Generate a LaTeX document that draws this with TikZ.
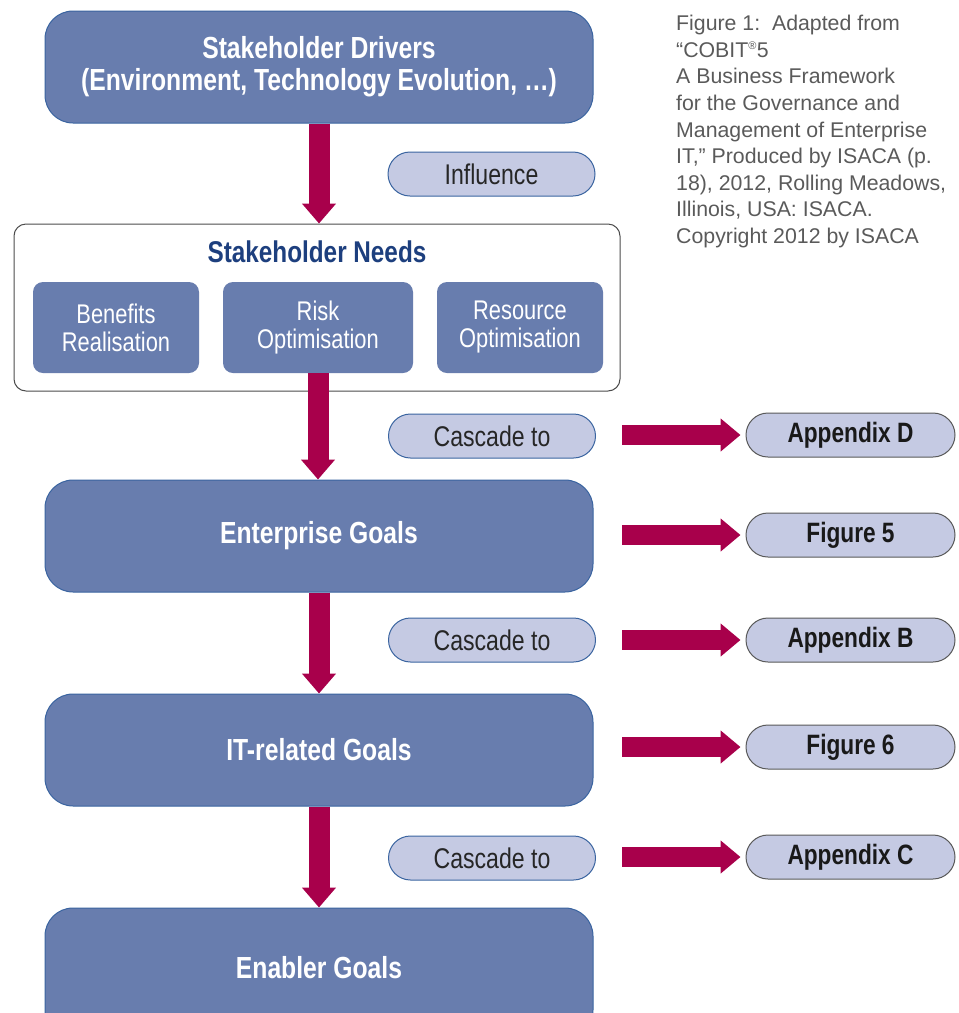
\documentclass[tikz,border=0pt]{standalone}
\usepackage{fontspec}
\setmainfont{Liberation Sans}
\newfontfamily\condf[FakeStretch=0.81]{Liberation Sans}
\usetikzlibrary{arrows.meta}
\definecolor{boxblue}{HTML}{687DAE}
\definecolor{boxedge}{HTML}{3A64A0}
\definecolor{pillfill}{HTML}{C5CAE3}
\definecolor{arrowred}{HTML}{A8004B}
\definecolor{titleblue}{HTML}{1D3F7E}
\definecolor{captiongrey}{HTML}{5A5A5A}
\tikzset{
 mainbox/.style={draw=boxedge, line width=1pt, fill=boxblue, rounded corners=28pt,
   minimum width=548pt, minimum height=112pt, inner sep=0pt, text=white,
   font=\condf\bfseries\fontsize{30.5}{32}\selectfont, align=center},
 subbox/.style={fill=boxblue, rounded corners=10pt, minimum height=91pt, inner sep=0pt,
   text=white, font=\condf\fontsize{27}{28}\selectfont, align=center},
 pill/.style={draw=boxedge, line width=1pt, fill=pillfill, rounded corners=22pt,
   minimum width=207pt, minimum height=44pt, inner sep=0pt, text=black!85,
   font=\condf\fontsize{28.5}{30}\selectfont},
 refpill/.style={pill, draw=black!65, minimum width=209pt, text=black!90,
   font=\condf\bfseries\fontsize{28}{30}\selectfont},
 vflow/.style={draw=arrowred, line width=21pt, -{Triangle[width=33pt,length=20pt]}},
 hflow/.style={draw=arrowred, line width=20pt, -{Triangle[width=32pt,length=20pt]}, shorten >=5pt},
}
\begin{document}
\begin{tikzpicture}[x=1pt,y=-1pt]
\useasboundingbox (0,0) rectangle (959,1013);
\clip (0,0) rectangle (959,1013);

% caption
\node[anchor=north west, align=left, inner sep=0pt, text=captiongrey,
  font=\fontsize{21.3}{26.6}\selectfont] (cap) at (676,15)
  {Figure 1:\ \ Adapted from\\
   “COBIT\textsuperscript{\fontsize{11}{11}\selectfont ®}5\\
   A Business Framework\\
   for the Governance and\\
   Management of Enterprise\\
   IT,” Produced by ISACA (p.\\
   18), 2012, Rolling Meadows,\\
   Illinois, USA: ISACA.\\
   Copyright 2012 by ISACA};

% main column
\node[mainbox] (drivers) at (319,67) {Stakeholder Drivers\\(Environment, Technology Evolution, …)};

\node[draw=black!70, line width=1pt, fill=white, rounded corners=12pt,
  minimum width=606pt, minimum height=167pt, inner sep=0pt] (needs) at (317,307.5) {};
\node[text=titleblue, inner sep=0pt, font=\condf\bfseries\fontsize{30}{32}\selectfont]
  (needstitle) at (317,252) {Stakeholder Needs};
\node[subbox, minimum width=166pt] (benefits) at (116,327.5) {Benefits\\Realisation};
\node[subbox, minimum width=190pt] (risk) at (318,327.5) {Risk\\Optimisation};
\node[subbox, minimum width=166pt] (resource) at (520,327.5) {Resource\\Optimisation};

\node[mainbox] (ent) at (319,536) {Enterprise Goals};
\node[mainbox] (it) at (319,750) {IT-related Goals};
\node[mainbox, minimum height=130pt] (enab) at (319,973) {\raisebox{11pt}{Enabler Goals}};

% labels on flows
\node[pill] (influence) at (491.5,174) {Influence};
\node[pill] (casc1) at (492,436) {Cascade to};
\node[pill] (casc2) at (492,640) {Cascade to};
\node[pill] (casc3) at (492,858) {Cascade to};

% references
\node[refpill] (appD) at (850.5,435) {Appendix D};
\node[refpill] (fig5) at (850.5,535) {Figure 5};
\node[refpill] (appB) at (850.5,640) {Appendix B};
\node[refpill] (fig6) at (850.5,747) {Figure 6};
\node[refpill] (appC) at (850.5,857) {Appendix C};

% vertical flows
\draw[vflow] (drivers.south) -- (drivers.south |- needs.north);
\draw[vflow] (risk.south) -- (risk.south |- ent.north);
\draw[vflow] (ent.south) -- (it.north);
\draw[vflow] (it.south) -- (enab.north);

% horizontal flows
\coordinate (hx) at (622,0);
\draw[hflow] (hx |- appD.west) -- (appD.west);
\draw[hflow] (hx |- fig5.west) -- (fig5.west);
\draw[hflow] (hx |- appB.west) -- (appB.west);
\draw[hflow] (hx |- fig6.west) -- (fig6.west);
\draw[hflow] (hx |- appC.west) -- (appC.west);
\end{tikzpicture}
\end{document}
